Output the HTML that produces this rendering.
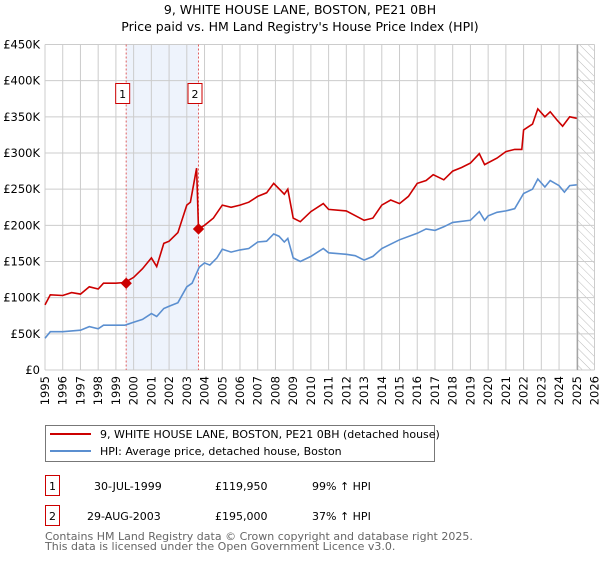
<!DOCTYPE html>
<html><head><meta charset="utf-8"><style>
body{margin:0;background:#fff;width:600px;height:560px;overflow:hidden;font-family:"DejaVu Sans","Liberation Sans",sans-serif}
svg text{font-family:"DejaVu Sans","Liberation Sans",sans-serif}
</style></head><body>
<svg id="chart" width="600" height="560">
<defs><pattern id="hatch" width="6" height="6" patternUnits="userSpaceOnUse" patternTransform="rotate(-45)"><line x1="0" y1="0" x2="0" y2="6" stroke="#bbb" stroke-width="1"/></pattern></defs>
<text x="300" y="14" text-anchor="middle" font-size="12.5">9, WHITE HOUSE LANE, BOSTON, PE21 0BH</text>
<text x="300" y="31" text-anchor="middle" font-size="12.5">Price paid vs. HM Land Registry's House Price Index (HPI)</text>
<g id="grid"></g><g id="series"></g><g id="axes"></g>
<g>
<rect x="45.5" y="425.5" width="389" height="36" fill="#fff" stroke="#777"/>
<line x1="50" y1="434" x2="91" y2="434" stroke="#cc0000" stroke-width="2"/>
<text x="100" y="438" font-size="11">9, WHITE HOUSE LANE, BOSTON, PE21 0BH (detached house)</text>
<line x1="50" y1="451" x2="91" y2="451" stroke="#5b8fd0" stroke-width="2"/>
<text x="100" y="455" font-size="11">HPI: Average price, detached house, Boston</text>
</g>
<g>
<rect x="45.5" y="475.5" width="14" height="20" fill="#fff" stroke="#cc0000"/>
<text x="52.5" y="490" text-anchor="middle" font-size="11">1</text>
<text x="94" y="490" font-size="11">30-JUL-1999</text>
<text x="215" y="490" font-size="11">£119,950</text>
<text x="312" y="490" font-size="11">99% ↑ HPI</text>
<rect x="45.5" y="505.5" width="14" height="20" fill="#fff" stroke="#cc0000"/>
<text x="52.5" y="520" text-anchor="middle" font-size="11">2</text>
<text x="87" y="520" font-size="11">29-AUG-2003</text>
<text x="215" y="520" font-size="11">£195,000</text>
<text x="312" y="520" font-size="11">37% ↑ HPI</text>
</g>
<text x="45" y="540" font-size="11" fill="#666">Contains HM Land Registry data © Crown copyright and database right 2025.</text>
<text x="45" y="550" font-size="11" fill="#666">This data is licensed under the Open Government Licence v3.0.</text>
</svg>
<script>
const hpiYears=[1995,1995.3,1996,1997,1997.5,1998,1998.3,1999,1999.5,2000,2000.5,2001,2001.3,2001.7,2002,2002.5,2003,2003.3,2003.7,2004,2004.3,2004.7,2005,2005.5,2006,2006.5,2007,2007.5,2007.9,2008.2,2008.5,2008.7,2009,2009.4,2010,2010.7,2011,2012,2012.5,2013,2013.5,2014,2015,2016,2016.5,2017,2017.5,2018,2019,2019.5,2019.8,2020,2020.5,2021,2021.5,2022,2022.5,2022.8,2023.2,2023.5,2024,2024.3,2024.6,2025];
const hpiValues=[44,53,53,55,60,57,62,62,62,66,70,78,74,85,88,93,115,120,142,148,145,155,167,163,166,168,177,178,188,185,177,182,155,150,157,168,162,160,158,152,157,168,180,189,195,193,198,204,207,219,207,213,218,220,223,244,250,264,253,262,255,246,255,256];
const priceYears=[1995,1995.3,1996,1996.5,1997,1997.5,1998,1998.3,1999,1999.5,2000,2000.5,2001,2001.3,2001.7,2002,2002.5,2003,2003.2,2003.55,2003.66,2004,2004.5,2005,2005.5,2006,2006.5,2007,2007.5,2007.9,2008.3,2008.5,2008.7,2009,2009.4,2010,2010.7,2011,2012,2013,2013.5,2014,2014.5,2015,2015.5,2016,2016.5,2016.9,2017.5,2018,2018.5,2019,2019.5,2019.8,2020.5,2021,2021.5,2021.9,2022,2022.5,2022.8,2023.2,2023.5,2023.9,2024.2,2024.6,2025];
const priceValues=[90,104,103,107,105,115,112,120,120,121,128,140,155,143,175,178,190,228,232,279,195,200,210,228,225,228,232,240,245,258,248,243,250,210,205,219,230,222,220,207,210,228,235,230,240,258,262,270,263,275,280,286,299,284,293,302,305,305,332,340,361,350,357,345,337,350,348];
const saleYears=[1999.58,2003.66];
const saleValues=[119.95,195];
const saleLabels=["1","2"];
const yTicks=[0,50,100,150,200,250,300,350,400,450];
const yTickLabels=["£0","£50K","£100K","£150K","£200K","£250K","£300K","£350K","£400K","£450K"];
const xTicks=[1995,1996,1997,1998,1999,2000,2001,2002,2003,2004,2005,2006,2007,2008,2009,2010,2011,2012,2013,2014,2015,2016,2017,2018,2019,2020,2021,2022,2023,2024,2025,2026];

const NS="http://www.w3.org/2000/svg";
const L=45,R=594.5,T=44.5,B=370;
const X=y=>L+(y-1995)/(2026-1995)*(R-L);
const Y=v=>B-v/450*(B-T);
function mk(tag,attrs,parent){const e=document.createElementNS(NS,tag);for(const k in attrs)e.setAttribute(k,attrs[k]);parent.appendChild(e);return e;}
const grid=document.getElementById('grid'),series=document.getElementById('series'),axes=document.getElementById('axes');
let band=mk('rect',{x:X(saleYears[0]),y:T,width:X(saleYears[1])-X(saleYears[0]),height:B-T,fill:'#eef3fc'},grid);


let hatch=mk('rect',{x:X(2025.05),y:T,width:R-X(2025.05),height:B-T,fill:'url(#hatch)'},grid);


yTicks.forEach((t,i)=>{
  let g=mk('line',{x1:L,x2:R,y1:Y(t),y2:Y(t),stroke:'#ccc','stroke-width':1},grid);
  
  
  let tx=mk('text',{x:L-5,y:Y(t)+4,'text-anchor':'end','font-size':11.5},axes);
  tx.textContent=yTickLabels[i];
  
  
});
xTicks.forEach(t=>{
  let g=mk('line',{x1:X(t),x2:X(t),y1:T,y2:B,stroke:'#ccc','stroke-width':1},grid);
  
  
  let tx=mk('text',{x:0,y:0,'text-anchor':'end','font-size':11.5,transform:`translate(${X(t)+4},${B+6}) rotate(-90)`},axes);
  tx.textContent=t;
  
  
});
let fl=mk('line',{x1:X(2025.05),x2:X(2025.05),y1:T,y2:B,stroke:'#999','stroke-width':1},grid);


saleYears.forEach((s,i)=>{
  let v=mk('line',{x1:X(s),x2:X(s),y1:T,y2:B,stroke:'#e06060','stroke-dasharray':'2,2','stroke-width':1},grid);
  
  
  let bx=mk('rect',{x:X(s)-10.5,y:83.5,width:14,height:20,fill:'#fff',stroke:'#cc0000'},axes);
  
  
  let t=mk('text',{x:X(s)-3.5,y:98,'text-anchor':'middle','font-size':11},axes);
  t.textContent=saleLabels[i];
  
  
});
const path=(xs,vs)=>xs.map((x,i)=>(i?'L':'M')+X(x).toFixed(1)+','+Y(vs[i]).toFixed(1)).join('');
let hp=mk('path',{d:path(hpiYears,hpiValues),fill:'none',stroke:'#5b8fd0','stroke-width':1.6},series);


let pp=mk('path',{d:path(priceYears,priceValues),fill:'none',stroke:'#cc0000','stroke-width':1.6},series);


saleYears.forEach((s,i)=>{
  let d=mk('rect',{x:X(s)-4,y:Y(saleValues[i])-4,width:8,height:8,fill:'#cc0000',transform:`rotate(45 ${X(s)} ${Y(saleValues[i])})`},series);
  
  
});
</script>
</body></html>
